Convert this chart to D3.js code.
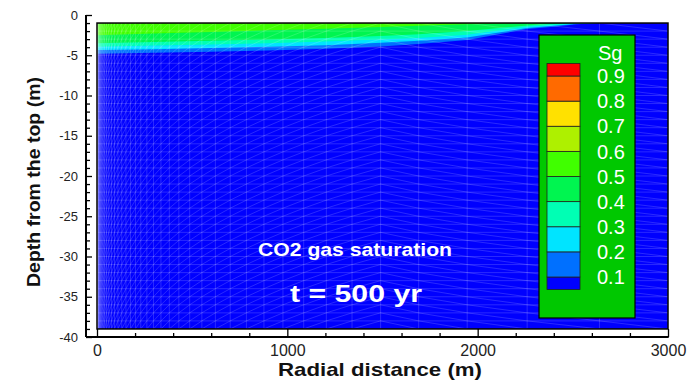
<!DOCTYPE html>
<html><head><meta charset="utf-8">
<script src="https://cdn.jsdelivr.net/npm/d3@7"></script>
<style>
body{margin:0;background:#fff}
svg{display:block;font-family:"Liberation Sans",Arial,Helvetica,sans-serif}
</style>
</head><body>
<svg id="c" width="691" height="382"></svg>
<script>
// ---------- data ----------
const legendLevels = [0.1, 0.2, 0.3, 0.4, 0.5, 0.6, 0.7, 0.8, 0.9];
const legendColors = ["#0000ff", "#0070ff", "#00e4ff", "#00ffb4", "#00f550",
                      "#40ff00", "#aef000", "#ffe100", "#ff6a00", "#ff0000"];
const legendTitle = "Sg";

// plume: depth (m) where Sg crosses each level, at these radial positions (m)
const plumeR = [0, 300, 600, 900, 1200, 1490, 1690, 1945, 2260, 2400, 2520, 2640];
const sg10 = [-4.8, -4.7, -4.55, -4.4, -4.2, -3.9, -3.6, -3.1, -1.75, -1.45, -1.15, -1.0];
const sg20 = [-4.35, -4.25, -4.1, -3.95, -3.75, -3.45, -3.2, -2.8, -1.6, -1.35, -1.1, -1.0];
const sg30 = [-3.95, -3.8, -3.65, -3.5, -3.3, -3.05, -2.85, -2.45, -1.45, -1.25, -1.05, -1.0];
const sg40 = [-3.5, -3.35, -3.2, -3.05, -2.85, -2.6, -2.4, -2.0, -1.3, -1.1, -1.0, -1.0];
const sg50 = [-2.5, -2.3, -2.1, -1.9, -1.7, -1.5, -1.35, -1.15, -1.0, -1.0, -1.0, -1.0];

// computational mesh (radial nodes, m)
const radialNodes = [0, 0.5, 1, 2, 3, 5, 7, 10, 14, 19, 25, 32, 40, 50, 62, 76, 92, 110, 130,
  152, 176, 202, 230, 262, 297, 336, 380, 430, 487, 551, 622, 700, 785, 877, 977, 1086,
  1205, 1340, 1490, 1690, 1945, 2260, 2640, 3000];
const meshTop = -1, meshBottom = -39;

const xMajorTicks = [0, 1000, 2000, 3000];
const xMinorTicks = [200, 400, 600, 800, 1200, 1400, 1600, 1800, 2200, 2400, 2600, 2800];
const yMajorTicks = [0, -5, -10, -15, -20, -25, -30, -35, -40];

const xTitle = "Radial distance (m)";
const yTitle = "Depth from the top (m)";
const label1 = "CO2 gas saturation";
const label2 = "t = 500 yr";

// ---------- chart ----------
const svg = d3.select("#c");
const x = d3.scaleLinear().domain([0, 3000]).range([97, 668]);
const y = d3.scaleLinear().domain([0, -40]).range([15, 337]);
const color = d3.scaleThreshold().domain(legendLevels).range(legendColors);

const x0 = x(0), x1 = x(3000), yT = y(meshTop), yB = y(meshBottom);

svg.append("defs").append("clipPath").attr("id", "clip")
  .append("rect").attr("x", x0).attr("y", yT).attr("width", x1 - x0).attr("height", yB - yT);

const plot = svg.append("g").attr("clip-path", "url(#clip)");
plot.append("rect").attr("x", x0).attr("y", yT).attr("width", x1 - x0).attr("height", yB - yT)
  .attr("fill", color(0.05));

const bands = [[0.15, sg10], [0.25, sg20], [0.35, sg30], [0.45, sg40], [0.55, sg50]];
bands.forEach(([s, arr]) => {
  const pts = plumeR.map((r, i) => [r, arr[i]]);
  pts.push([3000, meshTop]);
  const area = d3.area().x(d => x(d[0])).y0(y(meshTop)).y1(d => y(d[1]));
  plot.append("path").datum(pts).attr("d", area).attr("fill", color(s));
});

// mesh overlay
const layers = d3.range(meshTop, meshBottom - 0.5, -1);
const mesh = plot.append("g").attr("stroke", "#ffffff").attr("stroke-opacity", 0.27)
  .attr("stroke-width", 0.6).attr("fill", "none");
radialNodes.forEach(r => mesh.append("line").attr("x1", x(r)).attr("x2", x(r))
  .attr("y1", yT).attr("y2", yB));
layers.forEach(z => mesh.append("line").attr("x1", x0).attr("x2", x1)
  .attr("y1", y(z)).attr("y2", y(z)));
for (let i = 0; i < radialNodes.length - 1; i++) {
  const ra = radialNodes[i], rb = radialNodes[i + 1];
  const up = rb <= 1490;
  for (let j = 0; j < layers.length - 1; j++) {
    const za = layers[j], zb = layers[j + 1];
    mesh.append("line").attr("x1", x(ra)).attr("x2", x(rb))
      .attr("y1", up ? y(zb) : y(za)).attr("y2", up ? y(za) : y(zb));
  }
}

// frame
svg.append("rect").attr("x", x0).attr("y", yT).attr("width", x1 - x0).attr("height", yB - yT)
  .attr("fill", "none").attr("stroke", "#000").attr("stroke-width", 1.5);

// axes
const tickFmt = d => String(d);
const axX = 86, axY = y(-40);
const gy = svg.append("g").attr("transform", `translate(${axX},0)`)
  .call(d3.axisLeft(y).tickValues(yMajorTicks).tickFormat(tickFmt)
    .tickSizeInner(-6).tickSizeOuter(0).tickPadding(8));
svg.append("g").attr("transform", `translate(${axX},0)`)
  .call(d3.axisLeft(y).tickValues(d3.range(0, -41, -1).filter(v => v % 5 !== 0))
    .tickFormat("").tickSizeInner(-4).tickSizeOuter(0));
gy.selectAll("text").attr("font-size", 13).attr("fill", "#222")
  .attr("font-family", "'Liberation Sans',Arial,sans-serif");

const gx = svg.append("g").attr("transform", `translate(0,${axY})`)
  .call(d3.axisBottom(x).tickValues(xMajorTicks).tickFormat(tickFmt)
    .tickSizeInner(-8).tickSizeOuter(0).tickPadding(8));
svg.append("g").attr("transform", `translate(0,${axY})`)
  .call(d3.axisBottom(x).tickValues(xMinorTicks).tickFormat("")
    .tickSizeInner(-4).tickSizeOuter(0));
gx.selectAll("text").attr("font-size", 16).attr("fill", "#222")
  .attr("font-family", "'Liberation Sans',Arial,sans-serif");
svg.selectAll(".domain").remove();
svg.selectAll(".tick line").attr("stroke", "#000").attr("stroke-width", 1.3);
svg.append("line").attr("x1", axX).attr("x2", axX).attr("y1", y(0)).attr("y2", axY)
  .attr("stroke", "#000").attr("stroke-width", 2);
svg.append("line").attr("x1", axX).attr("x2", x1 + 0.7).attr("y1", axY).attr("y2", axY)
  .attr("stroke", "#000").attr("stroke-width", 2);

// titles
svg.append("text").attr("x", 278).attr("y", 376)
  .attr("font-size", 19).attr("font-weight", "bold")
  .attr("textLength", 204).attr("lengthAdjust", "spacingAndGlyphs")
  .attr("fill", "#111").text(xTitle);
svg.append("text").attr("transform", "translate(40,287) rotate(-90)")
  .attr("font-size", 19).attr("font-weight", "bold")
  .attr("textLength", 210).attr("lengthAdjust", "spacingAndGlyphs")
  .attr("fill", "#111").text(yTitle);

// annotation
svg.append("text").attr("x", 258).attr("y", 256)
  .attr("font-size", 19).attr("font-weight", "bold")
  .attr("textLength", 194).attr("lengthAdjust", "spacingAndGlyphs")
  .attr("fill", "#fff").text(label1);
svg.append("text").attr("x", 290).attr("y", 302)
  .attr("font-size", 24).attr("font-weight", "bold")
  .attr("textLength", 132).attr("lengthAdjust", "spacingAndGlyphs")
  .attr("fill", "#fff").text(label2);

// legend
const lg = svg.append("g");
lg.append("rect").attr("x", 539).attr("y", 35).attr("width", 96).attr("height", 283)
  .attr("fill", "#00c800").attr("stroke", "#000").attr("stroke-width", 1.2);
const ly = d3.scaleLinear().domain([0.1, 0.9]).range([277, 76]);
const bandEdges = [0.05].concat(legendLevels, [0.95]);
for (let i = 0; i < bandEdges.length - 1; i++) {
  lg.append("rect").attr("x", 547).attr("width", 33)
    .attr("y", ly(bandEdges[i + 1])).attr("height", ly(bandEdges[i]) - ly(bandEdges[i + 1]))
    .attr("fill", legendColors[i]).attr("stroke", "#222").attr("stroke-width", 0.8);
}
lg.selectAll("text.lv").data(legendLevels).join("text").attr("class", "lv")
  .attr("x", 597).attr("y", d => ly(d)).attr("dy", "0.36em")
  .attr("font-size", 20).attr("fill", "#fff").text(d => d.toFixed(1));
lg.append("text").attr("x", 598).attr("y", 53).attr("dy", "0.36em")
  .attr("font-size", 20).attr("fill", "#fff").text(legendTitle);
</script>
</body></html>
